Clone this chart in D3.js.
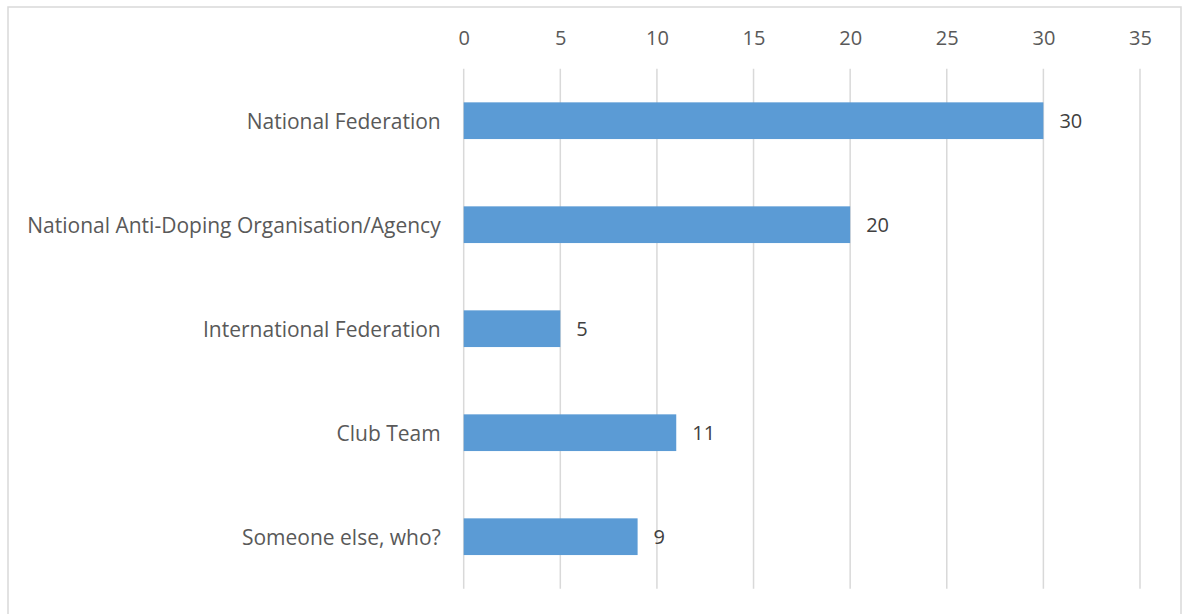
<!DOCTYPE html>
<html><head><meta charset="utf-8">
<script src="https://cdn.jsdelivr.net/npm/d3@7"></script>
<style>html,body{margin:0;padding:0;background:#fff;}svg{display:block;}</style>
</head><body>
<svg id="c" width="1186" height="614"></svg>
<script>
const categories = ["National Federation","National Anti-Doping Organisation/Agency","International Federation","Club Team","Someone else, who?"];
const values = [30,20,5,11,9];
const tickValues = [0,5,10,15,20,25,30,35];

(function(){
const svg = d3.select("#c");
const font = "'Open Sans', sans-serif";
const fs = 21;
svg.append("rect").attr("x",8).attr("y",7).attr("width",1173).attr("height",620)
  .attr("fill","#fff").attr("stroke","#d9d9d9").attr("stroke-width",1.5);

const pLeft = 463.7, pRight = 1140, pTop = 68.7, pBottom = 588.7;
const x = d3.scaleLinear().domain([0,35]).range([pLeft,pRight]);
const y = d3.scaleBand().domain(categories).range([pTop,pBottom]).paddingInner(0.647).paddingOuter(0.3235);

const g = svg.append("g");
g.selectAll("line.grid").data(tickValues).join("line")
  .attr("x1",d=>x(d)).attr("x2",d=>x(d)).attr("y1",pTop).attr("y2",pBottom)
  .attr("stroke","#d9d9d9").attr("stroke-width",1.5);

const ax = svg.append("g").attr("transform",`translate(0,${pTop})`)
  .call(d3.axisTop(x).tickValues(tickValues).tickSize(0).tickPadding(24));
ax.select(".domain").remove();
ax.selectAll("text").attr("font-family",font).attr("font-size",20).attr("fill","#595959");

g.selectAll("rect.bar").data(values).join("rect")
  .attr("x",x(0)).attr("y",(d,i)=>y(categories[i]))
  .attr("width",d=>x(d)-x(0)).attr("height",y.bandwidth())
  .attr("fill","#5b9bd5");

g.selectAll("text.val").data(values).join("text")
  .attr("x",d=>x(d)+16).attr("y",(d,i)=>y(categories[i])+y.bandwidth()/2)
  .attr("dy","0.35em").text(d=>d)
  .attr("font-family",font).attr("font-size",20).attr("fill","#404040");

const ay = svg.append("g").attr("transform",`translate(${pLeft},0)`)
  .call(d3.axisLeft(y).tickSize(0).tickPadding(23));
ay.select(".domain").remove();
ay.selectAll("text").attr("font-family",font).attr("font-size",fs).attr("fill","#595959").attr("dy","0.38em");
})();
</script>
</body></html>
